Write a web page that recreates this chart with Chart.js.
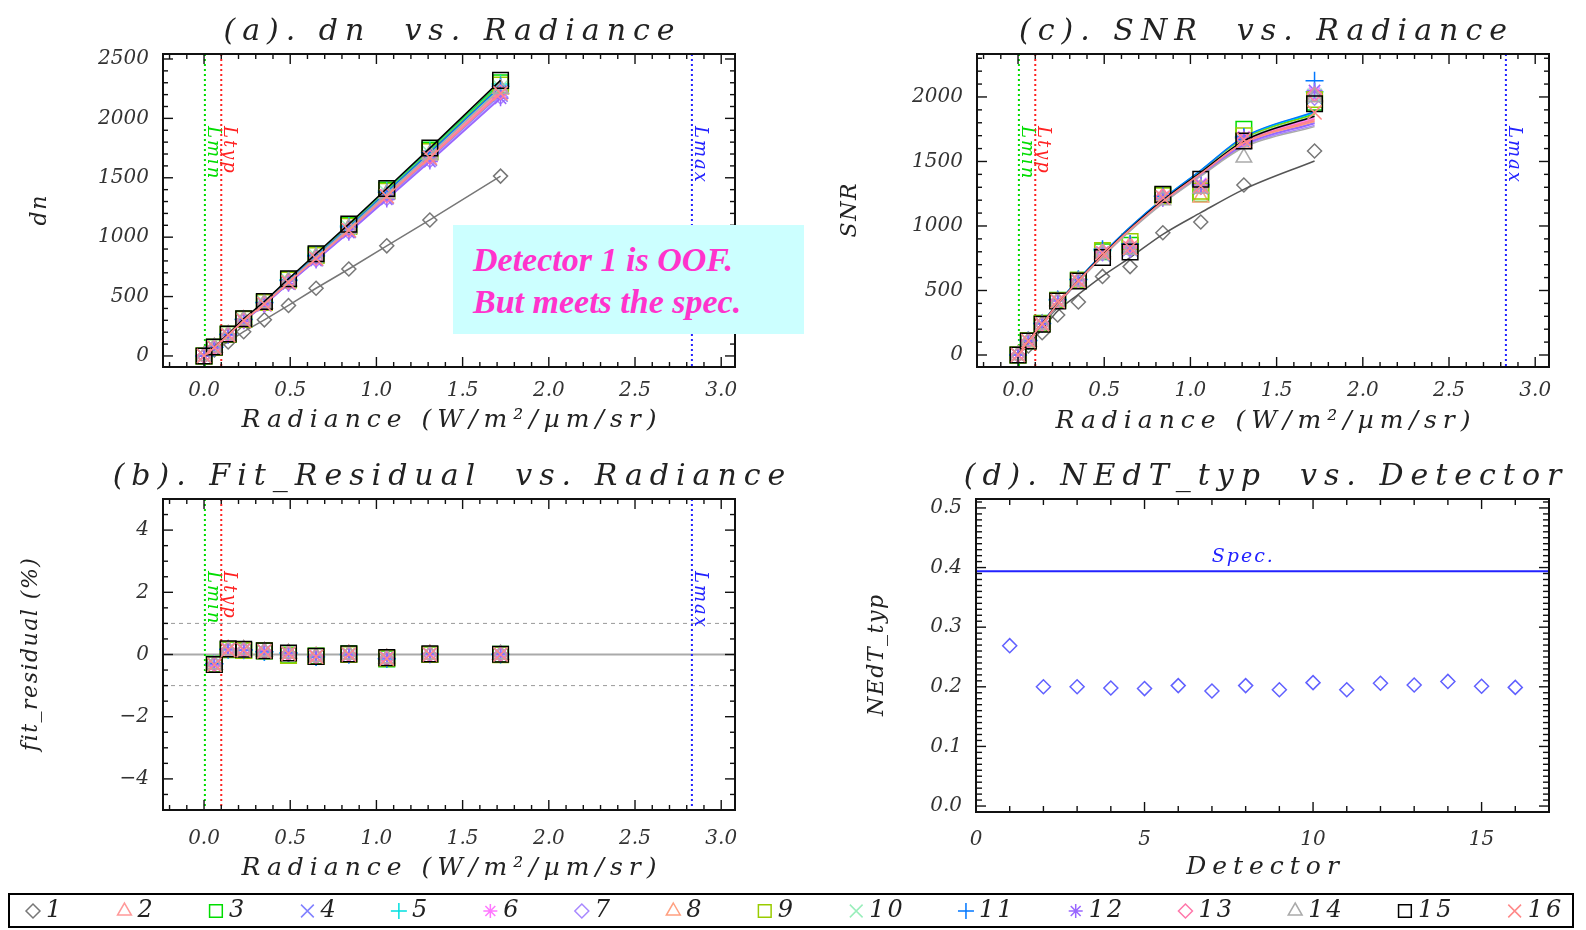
<!DOCTYPE html>
<html>
<head>
<meta charset="UTF-8">
<title>Detector summary</title>
<script src="https://cdn.jsdelivr.net/npm/chart.js@4"></script>
<style>
  body { margin: 0; background: #fff; width: 1586px; height: 930px; overflow: hidden; position: relative; }
  canvas { position: absolute; }
  #note { position: absolute; left: 453px; top: 225px; width: 351px; height: 109px; background: #ccffff;
          font: italic bold 34px "Liberation Serif", serif; color: #ff33cc; line-height: 42px;
          padding: 14px 0 0 20px; box-sizing: border-box; }
  #legendBox { position: absolute; left: 8px; top: 893px; width: 1566px; height: 35px; border: 2px solid #000; box-sizing: border-box; }
</style>
</head>
<body>
<canvas id="chartA" width="793" height="450" style="left:0;top:0"></canvas>
<canvas id="chartC" width="793" height="450" style="left:793px;top:0"></canvas>
<canvas id="chartB" width="793" height="440" style="left:0;top:450px"></canvas>
<canvas id="chartD" width="793" height="440" style="left:793px;top:450px"></canvas>
<div id="legendBox"></div>
<canvas id="legend" width="1586" height="40" style="left:0;top:890px"></canvas>
<div id="note">Detector 1 is OOF.<br>But meets the spec.</div>
<script>
// ---- data ----
const radiance = [0.00, 0.06, 0.14, 0.23, 0.35, 0.49, 0.65, 0.84, 1.06, 1.31, 1.72];
const detectors = ['1','2','3','4','5','6','7','8','9','10','11','12','13','14','15','16'];
const detColors = ['#777777','#ff9999','#00dd00','#8080ff','#00e0e0','#ff77ff','#a888ff','#ffa080',
                   '#99cc00','#99eebb','#0077ff','#9966ff','#ff77aa','#aaaaaa','#000000','#ff8888'];
const detMarkers = ['rectRot','triangle','rect','crossRot','cross','star','rectRot','triangle',
                    'rect','crossRot','cross','star','rectRot','triangle','rect','crossRot'];

// dn per detector (rows = detector 1..16)
const dn = [
  [0, 50, 118, 204, 304, 425, 570, 732, 927, 1145, 1514],
  [0, 73, 179, 304, 444, 630, 834, 1077, 1368, 1698, 2250],
  [0, 74, 183, 310, 454, 644, 852, 1100, 1397, 1734, 2300],
  [0, 71, 175, 297, 434, 616, 815, 1052, 1337, 1659, 2200],
  [0, 74, 183, 309, 452, 642, 849, 1096, 1392, 1727, 2290],
  [0, 72, 178, 301, 440, 625, 826, 1067, 1355, 1682, 2230],
  [0, 70, 174, 294, 430, 611, 808, 1043, 1325, 1645, 2180],
  [0, 72, 179, 302, 442, 628, 831, 1072, 1362, 1690, 2240],
  [0, 74, 182, 308, 450, 639, 845, 1091, 1386, 1720, 2280],
  [0, 73, 180, 305, 446, 633, 838, 1081, 1373, 1705, 2260],
  [0, 73, 181, 306, 448, 636, 841, 1086, 1379, 1712, 2270],
  [0, 70, 173, 293, 428, 608, 804, 1038, 1318, 1636, 2170],
  [0, 72, 177, 300, 438, 622, 823, 1062, 1349, 1675, 2220],
  [0, 73, 179, 303, 443, 629, 833, 1075, 1366, 1696, 2250],
  [0, 75, 185, 313, 458, 650, 860, 1110, 1410, 1750, 2320],
  [0, 71, 176, 298, 436, 619, 820, 1058, 1344, 1668, 2210]
];

// fit residual in % (no value at zero radiance)
const fitResidual = [
  [null, -0.30, 0.14, 0.15, 0.10, 0.04, -0.08, 0.01, -0.12, 0.00, 0.00],
  [null, -0.33, 0.16, 0.14, 0.09, 0.03, -0.06, 0.00, -0.13, 0.01, 0.00],
  [null, -0.31, 0.15, 0.13, 0.11, -0.02, -0.05, 0.02, -0.14, 0.00, 0.01],
  [null, -0.32, 0.17, 0.15, 0.10, 0.04, -0.07, -0.01, -0.12, 0.00, -0.01],
  [null, -0.30, 0.15, 0.14, 0.09, 0.05, -0.08, 0.00, -0.13, 0.02, 0.00],
  [null, -0.34, 0.16, 0.16, 0.11, 0.03, -0.07, 0.01, -0.11, -0.01, 0.00],
  [null, -0.31, 0.14, 0.14, 0.10, 0.02, -0.06, 0.00, -0.14, 0.00, 0.01],
  [null, -0.33, 0.15, 0.15, 0.09, 0.04, -0.07, 0.01, -0.13, 0.01, 0.00],
  [null, -0.32, 0.16, 0.13, 0.12, -0.03, -0.06, 0.00, -0.12, 0.00, -0.01],
  [null, -0.31, 0.15, 0.14, 0.10, 0.03, -0.08, 0.02, -0.13, 0.00, 0.00],
  [null, -0.30, 0.17, 0.15, 0.09, 0.05, -0.07, 0.00, -0.14, 0.01, 0.01],
  [null, -0.33, 0.15, 0.15, 0.11, 0.04, -0.06, -0.01, -0.12, 0.00, 0.00],
  [null, -0.32, 0.16, 0.14, 0.10, 0.03, -0.07, 0.01, -0.13, -0.01, 0.00],
  [null, -0.31, 0.14, 0.16, 0.10, 0.04, -0.08, 0.00, -0.12, 0.00, 0.01],
  [null, -0.32, 0.18, 0.17, 0.12, 0.05, -0.06, 0.02, -0.10, 0.02, 0.01],
  [null, -0.33, 0.15, 0.14, 0.10, 0.03, -0.07, 0.00, -0.13, 0.00, 0.00]
];

// measured SNR
const snr = [
  [0, 70, 173, 310, 411, 609, 685, 948, 1031, 1318, 1581],
  [0, 105, 240, 420, 575, 790, 830, 1220, 1290, 1660, 2010],
  [0, 110, 245, 425, 580, 800, 850, 1240, 1250, 1750, 1960],
  [0, 108, 240, 415, 570, 780, 820, 1220, 1300, 1650, 2000],
  [0, 112, 245, 425, 585, 810, 840, 1230, 1310, 1680, 2040],
  [0, 108, 238, 418, 578, 790, 835, 1225, 1330, 1690, 2030],
  [0, 106, 236, 416, 572, 785, 815, 1215, 1300, 1660, 1990],
  [0, 106, 240, 420, 575, 800, 850, 1230, 1220, 1640, 2000],
  [0, 110, 242, 422, 580, 810, 880, 1235, 1270, 1700, 1980],
  [0, 108, 240, 420, 575, 790, 830, 1220, 1310, 1670, 2010],
  [0, 112, 245, 430, 585, 820, 860, 1230, 1320, 1690, 2125],
  [0, 108, 238, 418, 575, 795, 830, 1210, 1320, 1680, 2050],
  [0, 108, 240, 420, 578, 800, 840, 1230, 1300, 1670, 2020],
  [0, 106, 236, 414, 570, 780, 815, 1200, 1290, 1530, 2000],
  [0, 109, 238, 419, 574, 755, 798, 1245, 1362, 1659, 1948],
  [0, 108, 240, 418, 575, 790, 830, 1220, 1310, 1670, 1880]
];

// fitted SNR curves
const snrFit = [
  [0, 83, 199, 341, 470, 612, 755, 935, 1103, 1284, 1504],
  [0, 108, 243, 396, 576, 772, 978, 1195, 1410, 1650, 1830],
  [0, 109, 245, 400, 582, 780, 988, 1205, 1425, 1680, 1870],
  [0, 107, 241, 393, 572, 767, 970, 1185, 1398, 1630, 1800],
  [0, 110, 246, 401, 584, 782, 990, 1208, 1430, 1685, 1880],
  [0, 108, 243, 396, 576, 772, 978, 1195, 1412, 1655, 1840],
  [0, 107, 240, 391, 569, 763, 966, 1180, 1392, 1620, 1780],
  [0, 108, 242, 395, 575, 770, 975, 1190, 1405, 1640, 1810],
  [0, 109, 245, 399, 581, 778, 985, 1203, 1422, 1675, 1865],
  [0, 109, 244, 398, 579, 776, 983, 1200, 1418, 1668, 1855],
  [0, 110, 247, 402, 585, 784, 992, 1210, 1432, 1690, 1885],
  [0, 107, 241, 393, 572, 766, 969, 1184, 1397, 1628, 1795],
  [0, 108, 243, 396, 576, 772, 977, 1193, 1408, 1648, 1825],
  [0, 106, 239, 390, 567, 760, 962, 1175, 1386, 1610, 1770],
  [0, 109, 244, 397, 578, 775, 980, 1198, 1415, 1660, 1850],
  [0, 108, 242, 395, 575, 770, 974, 1190, 1405, 1645, 1815]
];

const detectorNo = [1, 2, 3, 4, 5, 6, 7, 8, 9, 10, 11, 12, 13, 14, 15, 16];
const nedtTyp = [0.269, 0.200, 0.200, 0.198, 0.197, 0.202, 0.193, 0.202, 0.195, 0.207, 0.195, 0.206, 0.203, 0.209, 0.201, 0.199];
const nedtSpec = 0.394;

const radLimits = [0.005, 0.10, 2.83];
const radLimitNames = ['Lmin', 'Ltyp', 'Lmax'];
const radLimitColors = ['#00dd00', '#ff2222', '#2222ff'];

const radTicks = [0, 0.5, 1.0, 1.5, 2.0, 2.5, 3.0];
const dnTicks = [0, 500, 1000, 1500, 2000, 2500];
const snrTicks = [0, 500, 1000, 1500, 2000];
const resTicks = [-4, -2, 0, 2, 4];
const resBands = [-1, 1];
const detTicks = [0, 5, 10, 15];
const nedtTicks = [0.0, 0.1, 0.2, 0.3, 0.4, 0.5];

// ---- helpers ----
const SERIF = '"DejaVu Serif", serif';
const tickFont = {family: 'DejaVu Serif', style: 'italic', size: 20};
const markerRadius = {rectRot: 7, triangle: 9, rect: 11, crossRot: 10, cross: 9, star: 8};
const pts = (xs, ys) => xs.map((v, i) => ({x: v, y: ys[i]}));
const fmt1 = v => v.toFixed(1);
const fmtInt = v => (v < 0 ? '\u2212' + Math.abs(v) : String(v));

function spaced(ctx, text, x, y, size, spacing, color, rot) {
  ctx.save();
  ctx.translate(x, y);
  if (rot) ctx.rotate(rot);
  ctx.font = 'italic ' + size + 'px ' + SERIF;
  ctx.letterSpacing = spacing + 'px';
  ctx.fillStyle = color;
  ctx.textAlign = 'center';
  ctx.textBaseline = 'middle';
  ctx.fillText(text, spacing / 2, 0);
  ctx.restore();
}

function seg(ctx, x1, y1, x2, y2) {
  ctx.beginPath(); ctx.moveTo(x1, y1); ctx.lineTo(x2, y2); ctx.stroke();
}

// IDL style frame, inward ticks, reference lines and titles
const idlPlugin = {
  id: 'idl',
  beforeDatasetsDraw(chart, args, o) {
    const {ctx, chartArea: a, scales: {x, y}} = chart;
    ctx.save();
    if (o.bands) {
      ctx.strokeStyle = '#aaaaaa'; ctx.lineWidth = 2;
      seg(ctx, a.left, y.getPixelForValue(0), a.right, y.getPixelForValue(0));
      ctx.strokeStyle = '#999999'; ctx.lineWidth = 1; ctx.setLineDash([4, 4]);
      resBands.forEach(v => seg(ctx, a.left, y.getPixelForValue(v), a.right, y.getPixelForValue(v)));
      ctx.setLineDash([]);
    }
    if (o.limits) {
      radLimits.forEach((v, i) => {
        const px = x.getPixelForValue(v);
        ctx.strokeStyle = radLimitColors[i]; ctx.lineWidth = 2; ctx.setLineDash([2, 3]);
        seg(ctx, px, a.top, px, a.bottom);
        ctx.setLineDash([]);
        ctx.save();
        ctx.translate(px + 3, a.top + 72);
        ctx.rotate(Math.PI / 2);
        ctx.font = 'italic 18px ' + SERIF;
        ctx.letterSpacing = '2px';
        ctx.fillStyle = radLimitColors[i];
        ctx.textAlign = 'left'; ctx.textBaseline = 'alphabetic';
        ctx.fillText(radLimitNames[i], 0, 0);
        ctx.restore();
      });
    }
    if (o.spec) {
      const py = y.getPixelForValue(nedtSpec);
      ctx.strokeStyle = '#2222ff'; ctx.lineWidth = 2;
      seg(ctx, a.left, py, a.right, py);
      spaced(ctx, 'Spec.', x.getPixelForValue(7.9), py - 14, 19, 2, '#2222ff');
    }
    ctx.restore();
  },
  afterDatasetsDraw(chart, args, o) {
    const {ctx, chartArea: a, scales: {x, y}} = chart;
    ctx.save();
    ctx.strokeStyle = '#111'; ctx.lineWidth = 1.4;
    const marks = (sc, minor, major) => {
      const out = [];
      for (let k = Math.ceil(sc.min / minor - 1e-6); k * minor <= sc.max + 1e-9; k++) {
        const v = k * minor;
        out.push([sc.getPixelForValue(v), Math.abs(v / major - Math.round(v / major)) < 1e-6]);
      }
      return out;
    };
    marks(x, o.xMinor, o.xMajor).forEach(([p, m]) => {
      const L = m ? o.majLen : o.minLen;
      seg(ctx, p, a.bottom, p, a.bottom - L);
      seg(ctx, p, a.top, p, a.top + L);
    });
    marks(y, o.yMinor, o.yMajor).forEach(([p, m]) => {
      const L = m ? o.majLen : o.minLen;
      seg(ctx, a.left, p, a.left + L, p);
      seg(ctx, a.right, p, a.right - L, p);
    });
    ctx.lineWidth = 2;
    ctx.strokeRect(a.left, a.top, a.right - a.left, a.bottom - a.top);
    ctx.restore();
  },
  afterDraw(chart, args, o) {
    const {ctx, chartArea: a} = chart;
    const cx = (a.left + a.right) / 2, cy = (a.top + a.bottom) / 2;
    spaced(ctx, o.title, cx, a.top - 22, 30, 7, '#222');
    spaced(ctx, o.xTitle, cx, o.xTitleY, 25, 6, '#222');
    spaced(ctx, o.yTitle, o.yTitleX, cy, 22, 1.5, '#222', -Math.PI / 2);
  }
};
Chart.register(idlPlugin);

function options(c) {
  return {
    responsive: false, animation: false, events: [],
    layout: {padding: {left: 0, top: c.top, right: c.right, bottom: 0}},
    plugins: {legend: {display: false}, tooltip: {enabled: false}, idl: c.idl},
    scales: {
      x: {
        type: 'linear', min: c.xMin, max: c.xMax,
        grid: {display: false, drawTicks: false}, border: {display: false},
        afterBuildTicks: s => { s.ticks = c.xTicks.map(v => ({value: v})); },
        afterFit: s => { s.height = c.xHeight; },
        ticks: {autoSkip: false, maxRotation: 0, padding: c.xPad, color: '#333', font: tickFont, callback: c.xFmt}
      },
      y: {
        type: 'linear', min: c.yMin, max: c.yMax,
        grid: {display: false, drawTicks: false}, border: {display: false},
        afterBuildTicks: s => { s.ticks = c.yTicks.map(v => ({value: v})); },
        afterFit: s => { s.width = c.yWidth; },
        ticks: {autoSkip: false, padding: 14, color: '#333', font: tickFont, callback: c.yFmt}
      }
    }
  };
}

// later detectors are drawn on top, like the original plot loop
function markerSet(label, data, i, line) {
  return {
    label, data, showLine: !!line, order: -i,
    borderColor: detColors[i], backgroundColor: 'transparent', borderWidth: 1.5,
    pointStyle: detMarkers[i], pointRadius: markerRadius[detMarkers[i]], pointBorderWidth: 1.5,
    pointBackgroundColor: 'transparent'
  };
}

const radAxis = {xMin: -0.238, xMax: 3.08, xTicks: radTicks, xFmt: fmt1, yWidth: 163};

// (a) dn vs radiance
new Chart(document.getElementById('chartA'), {
  type: 'scatter',
  data: {datasets: detectors.map((d, i) => markerSet(d, pts(radiance, dn[i]), i, true))},
  options: options(Object.assign({}, radAxis, {
    top: 54, right: 58, xHeight: 83, xPad: 12,
    yMin: -93, yMax: 2542, yTicks: dnTicks, yFmt: fmtInt,
    idl: {limits: true, xMinor: 0.1, xMajor: 0.5, yMinor: 100, yMajor: 500, majLen: 10, minLen: 5,
          title: '(a). dn  vs. Radiance', xTitle: 'Radiance (W/m\u00b2/\u00b5m/sr)', xTitleY: 420,
          yTitle: 'dn', yTitleX: 40}
  }))
});

// (b) residual vs radiance
new Chart(document.getElementById('chartB'), {
  type: 'scatter',
  data: {datasets: detectors.map((d, i) => markerSet(d, pts(radiance, fitResidual[i]), i, false))},
  options: options(Object.assign({}, radAxis, {
    top: 49, right: 58, xHeight: 80, xPad: 17,
    yMin: -5, yMax: 5, yTicks: resTicks, yFmt: fmtInt,
    idl: {limits: true, bands: true, xMinor: 0.1, xMajor: 0.5, yMinor: 0.5, yMajor: 2, majLen: 10, minLen: 5,
          title: '(b). Fit_Residual  vs. Radiance', xTitle: 'Radiance (W/m\u00b2/\u00b5m/sr)', xTitleY: 418,
          yTitle: 'fit_residual (%)', yTitleX: 31}
  }))
});

// (c) SNR vs radiance: measured markers plus fitted curves
const snrSets = detectors.map((d, i) => markerSet(d, pts(radiance, snr[i]), i, false));
const fitSets = detectors.map((d, i) => ({
  label: d + ' fit', data: pts(radiance, snrFit[i]), showLine: true, order: -i - 0.5,
  borderColor: i === 0 ? '#555555' : detColors[i], borderWidth: 1.5, pointRadius: 0,
  cubicInterpolationMode: 'monotone'
}));
new Chart(document.getElementById('chartC'), {
  type: 'scatter',
  data: {datasets: snrSets.concat(fitSets)},
  options: options(Object.assign({}, radAxis, {
    top: 54, right: 37, xHeight: 83, xPad: 12, yWidth: 184,
    yMin: -93, yMax: 2333, yTicks: snrTicks, yFmt: fmtInt,
    idl: {limits: true, xMinor: 0.1, xMajor: 0.5, yMinor: 100, yMajor: 500, majLen: 10, minLen: 5,
          title: '(c). SNR  vs. Radiance', xTitle: 'Radiance (W/m\u00b2/\u00b5m/sr)', xTitleY: 421,
          yTitle: 'SNR', yTitleX: 57}
  }))
});

// (d) NEdT_typ vs detector
new Chart(document.getElementById('chartD'), {
  type: 'scatter',
  data: {datasets: [{
    label: 'NEdT_typ', data: pts(detectorNo, nedtTyp),
    borderColor: '#6060ff', backgroundColor: 'transparent', pointStyle: 'rectRot',
    pointRadius: 7, pointBorderWidth: 1.5
  }]},
  options: options({
    top: 49, right: 37, xHeight: 78, xPad: 16, yWidth: 183,
    xMin: 0, xMax: 17, xTicks: detTicks, xFmt: v => String(v),
    yMin: -0.01, yMax: 0.515, yTicks: nedtTicks, yFmt: fmt1,
    idl: {spec: true, xMinor: 1, xMajor: 5, yMinor: 0.01, yMajor: 0.1, majLen: 10, minLen: 6,
          title: '(d). NEdT_typ  vs. Detector', xTitle: 'Detector', xTitleY: 417,
          yTitle: 'NEdT_typ', yTitleX: 84}
  })
});

// shared legend strip
const legendPlugin = {
  id: 'stripLegend',
  afterDraw(chart) {
    const ctx = chart.ctx;
    const area = {left: -10, top: -10, right: 3000, bottom: 3000};
    let x = 26;
    const cy = 21;
    chart.data.datasets.forEach(ds => {
      ctx.save();
      ctx.strokeStyle = ds.borderColor; ctx.fillStyle = 'rgba(0,0,0,0)'; ctx.lineWidth = 1.5;
      const opts = {pointStyle: ds.pointStyle, radius: ds.pointRadius, rotation: 0, borderWidth: 1.5,
                    borderColor: ds.borderColor, backgroundColor: 'rgba(0,0,0,0)', hitRadius: 1, hoverRadius: 0};
      if (Chart.helpers && Chart.helpers.drawPoint) {
        Chart.helpers.drawPoint(ctx, opts, x + 7, cy);
      } else {
        const p = new Chart.PointElement({x: x + 7, y: cy, options: opts});
        p.draw(ctx, area);
      }
      ctx.font = 'italic 24px ' + SERIF;
      ctx.letterSpacing = '3px';
      ctx.fillStyle = '#222';
      ctx.textAlign = 'left'; ctx.textBaseline = 'middle';
      ctx.fillText(ds.label, x + 20, cy);
      const w = ctx.measureText(ds.label).width;
      ctx.restore();
      x += 20 + w + 53.2;
    });
  }
};
const legendSize = {rectRot: 7, triangle: 8, rect: 9, crossRot: 9, cross: 8, star: 7};
new Chart(document.getElementById('legend'), {
  type: 'scatter',
  data: {datasets: detectors.map((d, i) => ({label: d, data: [], borderColor: detColors[i],
                                            pointStyle: detMarkers[i], pointRadius: legendSize[detMarkers[i]]}))},
  options: {
    responsive: false, animation: false, events: [],
    plugins: {legend: {display: false}, tooltip: {enabled: false}, idl: false},
    scales: {x: {display: false}, y: {display: false}}
  },
  plugins: [legendPlugin]
});
</script>
</body>
</html>
